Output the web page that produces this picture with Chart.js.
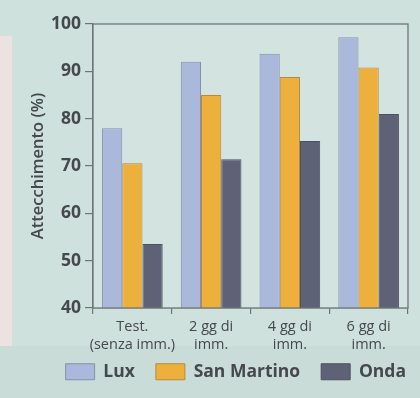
<!DOCTYPE html>
<html>
<head>
<meta charset="utf-8">
<script src="https://cdn.jsdelivr.net/npm/chart.js@4/dist/chart.umd.min.js"></script>
<style>
  html, body { margin: 0; padding: 0; background: #cfe1dc; }
  #wrap { position: relative; width: 420px; height: 398px; }
</style>
</head>
<body>
<div id="wrap"><canvas id="c" width="420" height="398"></canvas></div>
<script>
// Categories (x axis), two-line labels
const categories = [
  ["Test.", "(senza imm.)"],
  ["2 gg di", "imm."],
  ["4 gg di", "imm."],
  ["6 gg di", "imm."]
];
// Attecchimento (%) per varietà
const luxValues = [78, 92, 93.7, 97.2];
const sanMartinoValues = [70.6, 85, 88.8, 90.8];
const ondaValues = [53.5, 71.4, 75.3, 81];
// Y axis range and step
const yMin = 40, yMax = 100, yStep = 10;

const textColor = '#45484c';
const font = '"Open Sans", "DejaVu Sans", sans-serif';

// Page background, with the pale strip on the left edge
const backgroundPlugin = {
  id: 'pageBackground',
  beforeDraw(chart) {
    const ctx = chart.ctx;
    ctx.save();
    ctx.fillStyle = '#cfe1dc';
    ctx.fillRect(0, 0, chart.width, chart.height);
    ctx.fillStyle = '#c9dcd8';
    ctx.fillRect(0, 346, chart.width, chart.height - 346);
    ctx.fillStyle = '#ebe2e1';
    ctx.fillRect(0, 36, 12, 310);
    ctx.restore();
  }
};

// Box around the plotting area
const framePlugin = {
  id: 'plotFrame',
  beforeDatasetsDraw(chart) {
    const a = chart.chartArea, ctx = chart.ctx;
    ctx.save();
    ctx.fillStyle = '#d2e3e0';
    ctx.fillRect(a.left, a.top, a.right - a.left, a.bottom - a.top);
    ctx.restore();
  },
  afterDatasetsDraw(chart) {
    const a = chart.chartArea, ctx = chart.ctx;
    ctx.save();
    ctx.strokeStyle = '#6f7577';
    ctx.lineWidth = 1.3;
    ctx.strokeRect(a.left, a.top, a.right - a.left, a.bottom - a.top);
    ctx.restore();
  }
};

// Nudge the legend row: right edge under the plot frame, a bit closer to the axis labels
const legendShiftPlugin = {
  id: 'legendShift',
  afterLayout(chart) {
    const lg = chart.legend;
    if (lg) {
      lg.left += 19; lg.right += 19;
      lg.top -= 14; lg.bottom -= 14;
    }
  }
};

new Chart(document.getElementById('c'), {
  type: 'bar',
  data: {
    labels: categories,
    datasets: [
      { label: 'Lux', data: luxValues, backgroundColor: '#aab8dc', borderColor: '#8790a8' },
      { label: 'San Martino', data: sanMartinoValues, backgroundColor: '#edb03d', borderColor: '#b48a3e' },
      { label: 'Onda', data: ondaValues, backgroundColor: '#5e6277', borderColor: '#4c5062' }
    ]
  },
  options: {
    responsive: false,
    animation: false,
    devicePixelRatio: 1,
    layout: { padding: { top: 24, right: 12, left: 0, bottom: 2 } },
    datasets: {
      bar: { borderWidth: 1, categoryPercentage: 0.77, barPercentage: 1.0 }
    },
    scales: {
      x: {
        afterFit(scale) { scale.height = 48; },
        grid: { display: true, drawOnChartArea: false, offset: true, tickLength: 6, color: '#6f7577', lineWidth: 1.2 },
        border: { display: true, color: '#6f7577', width: 1.3 },
        ticks: { color: textColor, font: { family: font, size: 14.5, lineHeight: 1.25 }, padding: 4, maxRotation: 0, autoSkip: false }
      },
      y: {
        min: yMin, max: yMax,
        afterFit(scale) { scale.width = 93; },
        grid: { display: true, drawOnChartArea: false, tickLength: 8, color: '#6f7577', lineWidth: 1.2 },
        border: { display: true, color: '#6f7577', width: 1.3 },
        ticks: { stepSize: yStep, color: textColor, font: { family: font, size: 17.5, weight: 'bold' }, padding: 4 },
        title: { display: true, text: 'Attecchimento (%)', color: textColor, font: { family: font, size: 16.5, weight: '600' }, padding: { top: 28, bottom: 0 } }
      }
    },
    plugins: {
      legend: {
        position: 'bottom',
        align: 'end',
        maxHeight: 40,
        labels: {
          color: textColor,
          font: { family: font, size: 17.5, weight: 'bold' },
          boxWidth: 29, boxHeight: 16, padding: 21
        }
      },
      tooltip: { enabled: false }
    }
  },
  plugins: [backgroundPlugin, framePlugin, legendShiftPlugin]
});
</script>
</body>
</html>
